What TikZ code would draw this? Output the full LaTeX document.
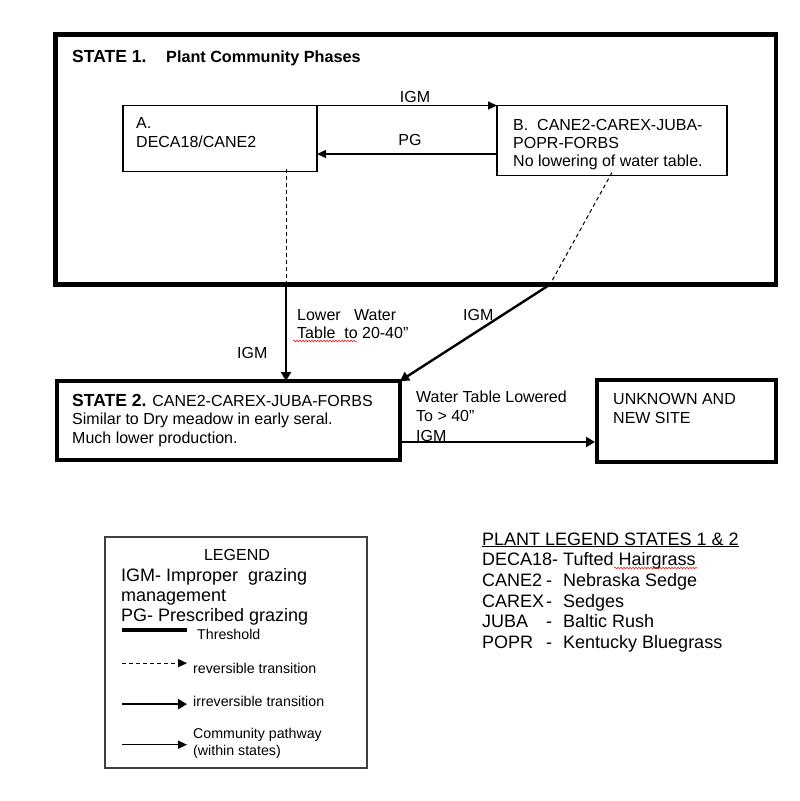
\documentclass[tikz,border=0pt]{standalone}
\usepackage{fontspec}
\setmainfont{Liberation Sans}
\usetikzlibrary{arrows.meta,decorations.pathmorphing}

\begin{document}
\begin{tikzpicture}[x=1pt, y=-1pt,
            statebox/.style={draw, rectangle, line width=4.5pt, inner sep=0pt, outer sep=0pt, anchor=north west},
            phasebox/.style={draw, rectangle, line width=1.2pt, inner sep=0pt, outer sep=0pt, anchor=north west},
            txt/.style={anchor=base west, inner sep=0pt, align=left, font=\fontsize{16pt}{18.5pt}\selectfont},
            legtxt/.style={txt, font=\fontsize{14.2pt}{16.5pt}\selectfont},
            plant/.style={txt, font=\fontsize{18pt}{20.7pt}\selectfont},
            pathway/.style={-{Triangle[length=9pt,width=8pt]}, line width=1.2pt},
            irrev/.style={-{Triangle[length=9pt,width=10pt]}, line width=2.4pt},
            revline/.style={line width=1pt, dash pattern=on 4pt off 3pt},
            spell/.style={red, line width=0.5pt, decorate, decoration={snake, amplitude=0.9pt, segment length=3pt}}]
            \useasboundingbox (0,0) rectangle (800,801);

            % state 1 and its two phases (multi-line texts sit on their last line)
            \node[statebox, minimum width=720.5pt, minimum height=250pt] (S1) at (55.5,34.5) {};
            \node[txt, font=\fontsize{17.5pt}{20pt}\selectfont\bfseries] (S1title) at (72,62) {STATE 1.};
            \node[txt, font=\fontsize{16.2pt}{19pt}\selectfont\bfseries] (S1sub) at (166,62) {Plant Community Phases};
            \node[phasebox, minimum width=194pt, minimum height=66pt] (A) at (123,105.5) {};
            \node[txt, font=\fontsize{16pt}{19.5pt}\selectfont] (Atext) at (136,147.5) {A.\\DECA18/CANE2};
            \node[phasebox, minimum width=230pt, minimum height=70pt] (B) at (497,105.5) {};
            \node[txt, font=\fontsize{16pt}{18pt}\selectfont] (Btext) at (513,166) {B.\ \ CANE2-CAREX-JUBA-\\POPR-FORBS\\No lowering of water table.};

            \draw[pathway] (A.north east) -- (B.north west);
            \draw[pathway] ([yshift=-13.5pt]B.west) -- ([yshift=-15.5pt]A.east);
            \node[txt, anchor=base] (igmAB) at (415,102) {IGM};
            \node[txt, anchor=base] (pgBA) at (410,145) {PG};

            % transitions out of state 1
            \coordinate (exitA) at (286,284.5);
            \coordinate (exitB) at (550,284.5);
            \node[statebox, minimum width=343pt, minimum height=79pt] (S2) at (57,381) {};
            \node[statebox, minimum width=179pt, minimum height=82pt] (U) at (597,380) {};

            \draw[revline] ([xshift=66pt,yshift=3pt]A.south) -- (exitA);
            \draw[revline] ([yshift=3pt]B.south) -- (exitB);
            \draw[irrev] (exitA) -- (exitA |- S2.north);
            \draw[irrev] (exitB) -- (S2.north east);
            \draw[irrev, shorten >=2pt] ([yshift=-21.5pt]S2.east) -- ([yshift=-21pt]U.west);

            \node[txt, font=\fontsize{16pt}{18pt}\selectfont] (lower) at (297,338) {Lower\ \ \ Water\\Table\ \ to 20-40”};
            \node[txt] (igmA) at (237,358) {IGM};
            \node[txt] (igmB) at (463,320) {IGM};
            \draw[spell] (293,341) -- (357,341);

            % state 2 and the unknown site
            \node[txt] (S2text) at (72,443) {{\fontsize{17.5pt}{18.5pt}\selectfont\bfseries STATE 2.} CANE2-CAREX-JUBA-FORBS\\Similar to Dry meadow in early seral.\\Much lower production.};
            \node[txt, font=\fontsize{16pt}{19.5pt}\selectfont] (lowered) at (416,441) {Water Table Lowered\\To > 40”\\IGM};
            \node[txt, font=\fontsize{16pt}{19pt}\selectfont] (Utext) at (613,423) {UNKNOWN AND\\NEW SITE};

            % legend
            \node[phasebox, draw=black!75, minimum width=262pt, minimum height=231pt] (leg) at (105,537) {};
            \node[txt, anchor=base] (legtitle) at (237,560) {LEGEND};
            \node[txt, font=\fontsize{18pt}{20pt}\selectfont] (abbr) at (121,621) {IGM- Improper\ \ grazing\\management\\PG- Prescribed grazing};
            \node[legtxt] (thr) at (197,639) {Threshold};
            \node[legtxt] (revtxt) at (193,673) {reversible transition};
            \node[legtxt] (irrtxt) at (193,706) {irreversible transition};
            \node[legtxt] (comtxt) at (193,755) {Community pathway\\(within states)};
            \draw[line width=4.5pt] ([xshift=-75pt,yshift=4pt]thr.west) -- ([xshift=-10pt,yshift=4pt]thr.west);
            \draw[revline, -{Triangle[length=9pt,width=8pt]}] ([xshift=-71pt,yshift=4.8pt]revtxt.west) -- ([xshift=-6pt,yshift=4.8pt]revtxt.west);
            \draw[irrev] ([xshift=-71pt,yshift=-3.2pt]irrtxt.west) -- ([xshift=-6pt,yshift=-3.2pt]irrtxt.west);
            \draw[pathway] ([xshift=-71pt,yshift=-1.6pt]comtxt.west) -- ([xshift=-6pt,yshift=-1.6pt]comtxt.west);

            % plant legend
            \node[plant] (plhead) at (482,545) {\underline{PLANT LEGEND STATES 1 \& 2}};
            \node[plant] (deca) at (482,565) {DECA18- Tufted Hairgrass};
            \node[plant] (cane) at (482,586) {\makebox[64pt][l]{CANE2}-\hspace{11pt}Nebraska Sedge};
            \node[plant] (carex) at (482,607) {\makebox[64pt][l]{CAREX}-\hspace{11pt}Sedges};
            \node[plant] (juba) at (482,627) {\makebox[64pt][l]{JUBA}-\hspace{11pt}Baltic Rush};
            \node[plant] (popr) at (482,648) {\makebox[64pt][l]{POPR}-\hspace{11pt}Kentucky Bluegrass};
            \draw[spell] (614,568) -- (698,568);
        \end{tikzpicture}
\end{document}
